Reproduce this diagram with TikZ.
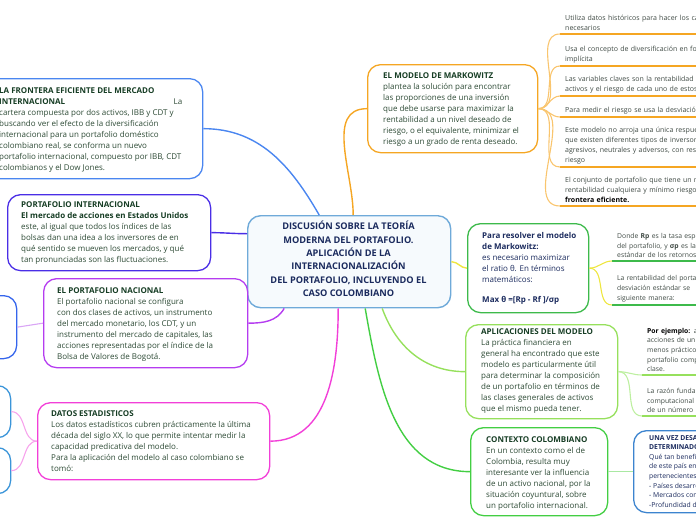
\documentclass[tikz,border=0pt]{standalone}
\usepackage{fontspec}
\setmainfont{Open Sans}
\definecolor{txg}{HTML}{2E4B36}
\definecolor{ttg}{HTML}{163D24}
\definecolor{nav}{HTML}{1B2B5E}
\definecolor{lfg}{HTML}{3F4A44}
\definecolor{cOr}{HTML}{F5A623}
\definecolor{cOrL}{HTML}{F9C56E}
\definecolor{cBl}{HTML}{4A86F0}
\definecolor{cIn}{HTML}{4A2EE6}
\definecolor{cVi}{HTML}{B53CF0}
\definecolor{cViL}{HTML}{D9A5F5}
\definecolor{cMa}{HTML}{F23FD8}
\definecolor{cMaL}{HTML}{F7A3EC}
\definecolor{cSa}{HTML}{3565EC}
\definecolor{cSb}{HTML}{3B95D9}
\definecolor{cCe}{HTML}{6FAAD9}
\definecolor{cCeF}{HTML}{F6FAFD}
\definecolor{cPr}{HTML}{3DBA4B}
\definecolor{cYe}{HTML}{EEE640}
\definecolor{cAp}{HTML}{96E05C}
\definecolor{cApL}{HTML}{BDEFA0}
\definecolor{cCc}{HTML}{43CE43}
\definecolor{cCcL}{HTML}{A9E8A2}
\definecolor{cUv}{HTML}{3C84CF}
\newcommand\ttl[1]{{\color{ttg}\bfseries #1}}
\newcommand\ttn[1]{{\bfseries #1}}
\begin{document}
\begin{tikzpicture}[x=1pt,y=-1pt,
  bx/.style={draw, rounded corners=13pt, line width=1.3pt, fill=white, anchor=north west, inner sep=0pt},
  tx/.style={anchor=north west, align=left, inner sep=0pt, font=\fontsize{8}{11}\selectfont, text=txg},
  lf/.style={anchor=south west, align=left, text width=200pt, inner xsep=5pt, inner ysep=3pt, font=\fontsize{7}{10}\selectfont, text=lfg},
  lfs/.style={lf, font=\fontsize{6.8}{9.6}\selectfont},
  ul/.style={line width=1.8pt},
  cn/.style={line width=1.4pt},
  cl/.style={line width=1.1pt}
]
\useasboundingbox (0,0) rectangle (696,520);
\clip (0,0) rectangle (696,520);

% ---------- central ----------
\node[bx, draw=cCe, fill=cCeF, line width=1.4pt, minimum width=203pt, minimum height=92pt] (c) at (247,215) {};
\node[align=center, inner sep=0pt, text=nav, font=\fontsize{9.2}{13.4}\selectfont\bfseries] (ct) at (348.5,259)
 {DISCUSIÓN SOBRE LA TEORÍA\\ MODERNA DEL PORTAFOLIO.\\ APLICACIÓN DE LA\\ INTERNACIONALIZACIÓN\\ DEL PORTAFOLIO, INCLUYENDO EL\\ CASO COLOMBIANO};

% ---------- left ----------
\node[bx, draw=cBl, minimum width=222pt, minimum height=100pt] (fr) at (-20,78) {};
\node[tx] (frt) at (-1,87) {\ttl{LA FRONTERA EFICIENTE DEL MERCADO}\\
 \makebox[183pt][l]{\ttl{INTERNACIONAL}\hfill La}\\
 cartera compuesta por dos activos, IBB y CDT y\\
 buscando ver el efecto de la diversificación\\
 internacional para un portafolio doméstico\\
 colombiano real, se conforma un nuevo\\
 portafolio internacional, compuesto por IBB, CDT\\
 colombianos y el Dow Jones.};

\node[bx, draw=cIn, minimum width=203pt, minimum height=76pt] (pi) at (7,194) {};
\node[tx] (pit) at (21,201) {\ttl{PORTAFOLIO INTERNACIONAL}\\
 \ttl{El mercado de acciones en Estados Unidos}\\
 este, al igual que todos los índices de las\\
 bolsas dan una idea a los inversores de en\\
 qué sentido se mueven los mercados, y qué\\
 tan pronunciadas son las fluctuaciones.};

\node[bx, draw=cVi, minimum width=204pt, minimum height=89pt] (pn) at (43,278) {};
\node[tx] (pnt) at (57,287) {\ttl{EL PORTAFOLIO NACIONAL}\\
 El portafolio nacional se configura\\
 con dos clases de activos, un instrumento\\
 del mercado monetario, los CDT, y un\\
 instrumento del mercado de capitales, las\\
 acciones representadas por el índice de la\\
 Bolsa de Valores de Bogotá.};

\node[bx, draw=cSa, minimum width=46pt, minimum height=63pt] (sa) at (-30,295) {};
\node[bx, draw=cSb, minimum width=40pt, minimum height=52pt] (sb) at (-30,385) {};
\node[bx, draw=cSb, minimum width=40pt, minimum height=46pt] (sc) at (-30,447) {};

\node[bx, draw=cMa, minimum width=232pt, minimum height=77pt] (ds) at (37,402) {};
\node[tx] (dst) at (51,410) {\ttl{DATOS ESTADISTICOS}\\
 Los datos estadísticos cubren prácticamente la última\\
 década del siglo XX, lo que permite intentar medir la\\
 capacidad predicativa del modelo.\\
 Para la aplicación del modelo al caso colombiano se\\
 tomó:};

% ---------- right ----------
\node[bx, draw=cOr, minimum width=170pt, minimum height=88pt] (mk) at (367,64) {};
\node[tx] (mkt) at (383,72) {\ttl{EL MODELO DE MARKOWITZ}\\
 plantea la solución para encontrar\\
 las proporciones de una inversión\\
 que debe usarse para maximizar la\\
 rentabilidad a un nivel deseado de\\
 riesgo, o el equivalente, minimizar el\\
 riesgo a un grado de renta deseado.};

\node[lf] (o1) at (560,34) {Utiliza datos históricos para hacer los cálculos\\ necesarios};
\node[lf] (o2) at (560,66) {Usa el concepto de diversificación en forma\\ implícita};
\node[lf] (o3) at (560,96) {Las variables claves son la rentabilidad de los\\ activos y el riesgo de cada uno de estos};
\node[lf] (o4) at (560,117) {Para medir el riesgo se usa la desviación};
\node[lf] (o5) at (560,167) {Este modelo no arroja una única respuesta\\ que existen diferentes tipos de inversores\\ agresivos, neutrales y adversos, con respecto\\ riesgo};
\node[lf] (o6) at (560,206) {El conjunto de portafolio que tiene un máximo\\ rentabilidad cualquiera y mínimo riesgo\\ {\color{black}\bfseries frontera eficiente.}};
\foreach \n in {o1,o2,o3,o4,o5,o6}{\draw[ul, cOr] (\n.south west) -- (\n.south east);}

\node[bx, draw=cPr, minimum width=121pt, minimum height=89pt] (pr) at (467,223) {};
\node[tx, text=nav] (prt) at (482,232) {\ttn{Para resolver el modelo}\\
 \ttn{de Markowitz:}\\
 es necesario maximizar\\
 el ratio θ. En términos\\
 matemáticos:\\[9pt]
 \ttn{Max θ =[Rp - Rf ]/σp}};

\node[lfs] (y1) at (612,261) {Donde \textbf{Rp} es la tasa esperada\\ del portafolio, y \textbf{σp} es la\\ estándar de los retornos};
\node[lfs] (y2) at (612,305) {La rentabilidad del portafolio\\ desviación estándar se\\ siguiente manera:};
\foreach \n in {y1,y2}{\draw[ul, cPr] (\n.south west) -- (\n.south east);}

\node[bx, draw=cAp, minimum width=152pt, minimum height=94pt] (ap) at (465,324) {};
\node[tx] (apt) at (481,328) {\ttl{APLICACIONES DEL MODELO}\\
 La práctica financiera en\\
 general ha encontrado que este\\
 modelo es particularmente útil\\
 para determinar la composición\\
 de un portafolio en términos de\\
 las clases generales de activos\\
 que el mismo pueda tener.};

\node[lfs] (a1) at (642,375) {{\color{black}\bfseries Por ejemplo:} al\\ acciones de un\\ menos práctico\\ portafolio compuesto\\ clase.};
\node[lfs] (a2) at (642,416) {La razón fundamental\\ computacional\\ de un número};
\foreach \n in {a1,a2}{\draw[ul, cAp] (\n.south west) -- (\n.south east);}

\node[bx, draw=cCc, minimum width=137pt, minimum height=88pt] (cc) at (470,427) {};
\node[tx] (cct) at (486,436) {\ttl{CONTEXTO COLOMBIANO}\\
 En un contexto como el de\\
 Colombia, resulta muy\\
 interesante ver la influencia\\
 de un activo nacional, por la\\
 situación coyuntural, sobre\\
 un portafolio internacional.};

\node[bx, draw=cUv, minimum width=100pt, minimum height=82pt] (uv) at (633,430) {};
\node[tx, text=nav, font=\fontsize{6.8}{9.6}\selectfont] (uvt) at (649,435) {\ttn{UNA VEZ DESARROLLADO}\\
 \ttn{DETERMINADOS}\\
 Qué tan beneficioso\\
 de este país en\\
 pertenecientes a\\
 - Países desarrollados\\
 - Mercados con\\
 -Profundidad de};

% ---------- connectors ----------
\draw[cn, cOr] ([xshift=4pt]c.north) to[out=90,in=180] (mk.west);
\draw[cn, cBl] ([xshift=-30pt]c.north) to[out=120,in=0] (fr.east);
\draw[cn, cIn] ([yshift=28pt]c.west) to[out=180,in=0] (pi.east);
\draw[cn, cVi] ([xshift=-65pt]c.south) to[out=-120,in=0] (pn.east);
\draw[cn, cMa] ([xshift=-11pt]c.south) to[out=-90,in=0] (ds.east);
\draw[cn, cCc] ([xshift=16pt]c.south) to[out=-80,in=180] (cc.west);
\draw[cn, cAp] ([xshift=33pt]c.south) to[out=-70,in=180] (ap.west);
\draw[cn, cYe] (c.east) to[out=0,in=180] (pr.west);

\foreach \n in {o1,o2,o3,o4,o5,o6}{\draw[cl, cOrL] (mk.east) to[out=0,in=180] (\n.south west);}
\foreach \n in {y1,y2}{\draw[cl, cYe] (pr.east) to[out=0,in=180] (\n.south west);}
\foreach \n in {a1,a2}{\draw[cl, cApL] (ap.east) to[out=0,in=180] (\n.south west);}
\draw[cl, cViL] (sa.east) -- (pn.west);
\draw[cl, cMaL] (ds.west) to[out=180,in=0] (sb.east);
\draw[cl, cMaL] (ds.west) to[out=180,in=0] (sc.east);
\draw[cl, cCcL] (cc.east) -- (uv.west);
\end{tikzpicture}
\end{document}
